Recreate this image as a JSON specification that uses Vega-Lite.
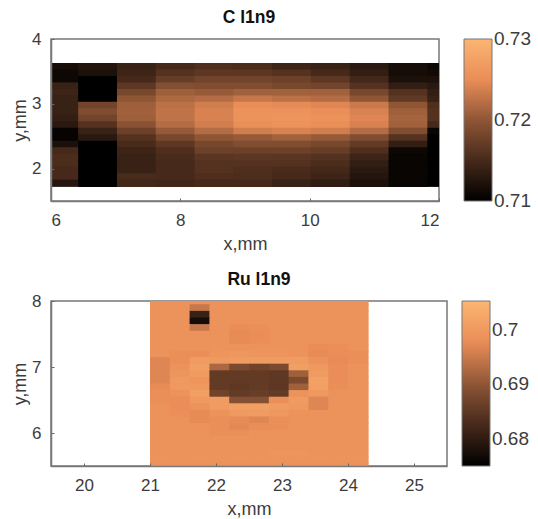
{
"$schema":"https://vega.github.io/schema/vega-lite/v6.json",
"padding":{"left":10,"top":7,"right":0,"bottom":0},
"background":"white",
"spacing":14,
"config":{"view":{"stroke":"#777","strokeWidth":1.5},"font":"Liberation Sans",
"axis":{"grid":false,"domain":true,"domainColor":"#777","domainWidth":1.5,"tickColor":"#666","tickSize":-3,"labelFontSize":17,"labelColor":"#3c3c3c","titleFontSize":18,"titleColor":"#3c3c3c","titleFontWeight":"normal"},
"axisX":{"labelPadding":14.5,"titlePadding":7},
"axisY":{"labelPadding":13,"titlePadding":2},
"title":{"fontSize":17.5,"fontWeight":"bold","color":"#111","offset":4},
"legend":{"gradientThickness":28,"labelFontSize":19,"labelColor":"#3c3c3c","gradientStrokeColor":"#777","gradientStrokeWidth":1,"labelOffset":11}},
"resolve":{"scale":{"color":"independent"}},
"vconcat":[
{"title":{"text":"C l1n9","dx":4},"width":388,"height":162,
"data":{"values":[
{"x":6,"x2":6.42,"y":3.63,"y2":3.53,"v":0.7116},{"x":6,"x2":6.42,"y":3.53,"y2":3.43,"v":0.711},{"x":6,"x2":6.42,"y":3.43,"y2":3.33,"v":0.711},{"x":6,"x2":6.42,"y":3.33,"y2":3.23,"v":0.714},{"x":6,"x2":6.42,"y":3.23,"y2":3.13,"v":0.7144},{"x":6,"x2":6.42,"y":3.13,"y2":3.03,"v":0.714},{"x":6,"x2":6.42,"y":3.03,"y2":2.93,"v":0.714},{"x":6,"x2":6.42,"y":2.93,"y2":2.83,"v":0.714},{"x":6,"x2":6.42,"y":2.83,"y2":2.73,"v":0.7136},{"x":6,"x2":6.42,"y":2.73,"y2":2.63,"v":0.713},{"x":6,"x2":6.42,"y":2.63,"y2":2.53,"v":0.7104},{"x":6,"x2":6.42,"y":2.53,"y2":2.43,"v":0.7104},{"x":6,"x2":6.42,"y":2.43,"y2":2.33,"v":0.712},{"x":6,"x2":6.42,"y":2.33,"y2":2.23,"v":0.715},{"x":6,"x2":6.42,"y":2.23,"y2":2.13,"v":0.7154},{"x":6,"x2":6.42,"y":2.13,"y2":2.03,"v":0.7154},{"x":6,"x2":6.42,"y":2.03,"y2":1.93,"v":0.715},{"x":6,"x2":6.42,"y":1.93,"y2":1.83,"v":0.715},{"x":6,"x2":6.42,"y":1.83,"y2":1.73,"v":0.7126},
{"x":6.42,"x2":7.02,"y":3.63,"y2":3.53,"v":0.7124},{"x":6.42,"x2":7.02,"y":3.53,"y2":3.43,"v":0.712},{"x":6.42,"x2":7.02,"y":3.43,"y2":3.33,"v":0.71},{"x":6.42,"x2":7.02,"y":3.33,"y2":3.23,"v":0.71},{"x":6.42,"x2":7.02,"y":3.23,"y2":3.13,"v":0.71},{"x":6.42,"x2":7.02,"y":3.13,"y2":3.03,"v":0.71},{"x":6.42,"x2":7.02,"y":3.03,"y2":2.93,"v":0.718},{"x":6.42,"x2":7.02,"y":2.93,"y2":2.83,"v":0.719},{"x":6.42,"x2":7.02,"y":2.83,"y2":2.73,"v":0.718},{"x":6.42,"x2":7.02,"y":2.73,"y2":2.63,"v":0.716},{"x":6.42,"x2":7.02,"y":2.63,"y2":2.53,"v":0.714},{"x":6.42,"x2":7.02,"y":2.53,"y2":2.43,"v":0.713},{"x":6.42,"x2":7.02,"y":2.43,"y2":2.33,"v":0.71},{"x":6.42,"x2":7.02,"y":2.33,"y2":2.23,"v":0.71},{"x":6.42,"x2":7.02,"y":2.23,"y2":2.13,"v":0.71},{"x":6.42,"x2":7.02,"y":2.13,"y2":2.03,"v":0.71},{"x":6.42,"x2":7.02,"y":2.03,"y2":1.93,"v":0.71},{"x":6.42,"x2":7.02,"y":1.93,"y2":1.83,"v":0.71},{"x":6.42,"x2":7.02,"y":1.83,"y2":1.73,"v":0.71},
{"x":7.02,"x2":7.62,"y":3.63,"y2":3.53,"v":0.714},{"x":7.02,"x2":7.62,"y":3.53,"y2":3.43,"v":0.7144},{"x":7.02,"x2":7.62,"y":3.43,"y2":3.33,"v":0.715},{"x":7.02,"x2":7.62,"y":3.33,"y2":3.23,"v":0.7166},{"x":7.02,"x2":7.62,"y":3.23,"y2":3.13,"v":0.7184},{"x":7.02,"x2":7.62,"y":3.13,"y2":3.03,"v":0.72},{"x":7.02,"x2":7.62,"y":3.03,"y2":2.93,"v":0.7208},{"x":7.02,"x2":7.62,"y":2.93,"y2":2.83,"v":0.721},{"x":7.02,"x2":7.62,"y":2.83,"y2":2.73,"v":0.7208},{"x":7.02,"x2":7.62,"y":2.73,"y2":2.63,"v":0.7196},{"x":7.02,"x2":7.62,"y":2.63,"y2":2.53,"v":0.7176},{"x":7.02,"x2":7.62,"y":2.53,"y2":2.43,"v":0.716},{"x":7.02,"x2":7.62,"y":2.43,"y2":2.33,"v":0.7152},{"x":7.02,"x2":7.62,"y":2.33,"y2":2.23,"v":0.7144},{"x":7.02,"x2":7.62,"y":2.23,"y2":2.13,"v":0.714},{"x":7.02,"x2":7.62,"y":2.13,"y2":2.03,"v":0.714},{"x":7.02,"x2":7.62,"y":2.03,"y2":1.93,"v":0.714},{"x":7.02,"x2":7.62,"y":1.93,"y2":1.83,"v":0.7152},{"x":7.02,"x2":7.62,"y":1.83,"y2":1.73,"v":0.7148},
{"x":7.62,"x2":8.22,"y":3.63,"y2":3.53,"v":0.715},{"x":7.62,"x2":8.22,"y":3.53,"y2":3.43,"v":0.716},{"x":7.62,"x2":8.22,"y":3.43,"y2":3.33,"v":0.7172},{"x":7.62,"x2":8.22,"y":3.33,"y2":3.23,"v":0.7192},{"x":7.62,"x2":8.22,"y":3.23,"y2":3.13,"v":0.7208},{"x":7.62,"x2":8.22,"y":3.13,"y2":3.03,"v":0.7216},{"x":7.62,"x2":8.22,"y":3.03,"y2":2.93,"v":0.7224},{"x":7.62,"x2":8.22,"y":2.93,"y2":2.83,"v":0.7226},{"x":7.62,"x2":8.22,"y":2.83,"y2":2.73,"v":0.7226},{"x":7.62,"x2":8.22,"y":2.73,"y2":2.63,"v":0.722},{"x":7.62,"x2":8.22,"y":2.63,"y2":2.53,"v":0.7204},{"x":7.62,"x2":8.22,"y":2.53,"y2":2.43,"v":0.7184},{"x":7.62,"x2":8.22,"y":2.43,"y2":2.33,"v":0.7166},{"x":7.62,"x2":8.22,"y":2.33,"y2":2.23,"v":0.7156},{"x":7.62,"x2":8.22,"y":2.23,"y2":2.13,"v":0.7152},{"x":7.62,"x2":8.22,"y":2.13,"y2":2.03,"v":0.715},{"x":7.62,"x2":8.22,"y":2.03,"y2":1.93,"v":0.715},{"x":7.62,"x2":8.22,"y":1.93,"y2":1.83,"v":0.715},{"x":7.62,"x2":8.22,"y":1.83,"y2":1.73,"v":0.7146},
{"x":8.22,"x2":8.82,"y":3.63,"y2":3.53,"v":0.7156},{"x":8.22,"x2":8.82,"y":3.53,"y2":3.43,"v":0.7166},{"x":8.22,"x2":8.82,"y":3.43,"y2":3.33,"v":0.718},{"x":8.22,"x2":8.82,"y":3.33,"y2":3.23,"v":0.719},{"x":8.22,"x2":8.82,"y":3.23,"y2":3.13,"v":0.7204},{"x":8.22,"x2":8.82,"y":3.13,"y2":3.03,"v":0.722},{"x":8.22,"x2":8.82,"y":3.03,"y2":2.93,"v":0.7236},{"x":8.22,"x2":8.82,"y":2.93,"y2":2.83,"v":0.724},{"x":8.22,"x2":8.82,"y":2.83,"y2":2.73,"v":0.724},{"x":8.22,"x2":8.82,"y":2.73,"y2":2.63,"v":0.7236},{"x":8.22,"x2":8.82,"y":2.63,"y2":2.53,"v":0.722},{"x":8.22,"x2":8.82,"y":2.53,"y2":2.43,"v":0.72},{"x":8.22,"x2":8.82,"y":2.43,"y2":2.33,"v":0.7184},{"x":8.22,"x2":8.82,"y":2.33,"y2":2.23,"v":0.7176},{"x":8.22,"x2":8.82,"y":2.23,"y2":2.13,"v":0.7164},{"x":8.22,"x2":8.82,"y":2.13,"y2":2.03,"v":0.716},{"x":8.22,"x2":8.82,"y":2.03,"y2":1.93,"v":0.716},{"x":8.22,"x2":8.82,"y":1.93,"y2":1.83,"v":0.7156},{"x":8.22,"x2":8.82,"y":1.83,"y2":1.73,"v":0.715},
{"x":8.82,"x2":9.42,"y":3.63,"y2":3.53,"v":0.7154},{"x":8.82,"x2":9.42,"y":3.53,"y2":3.43,"v":0.7166},{"x":8.82,"x2":9.42,"y":3.43,"y2":3.33,"v":0.718},{"x":8.82,"x2":9.42,"y":3.33,"y2":3.23,"v":0.719},{"x":8.82,"x2":9.42,"y":3.23,"y2":3.13,"v":0.721},{"x":8.82,"x2":9.42,"y":3.13,"y2":3.03,"v":0.723},{"x":8.82,"x2":9.42,"y":3.03,"y2":2.93,"v":0.725},{"x":8.82,"x2":9.42,"y":2.93,"y2":2.83,"v":0.7256},{"x":8.82,"x2":9.42,"y":2.83,"y2":2.73,"v":0.7256},{"x":8.82,"x2":9.42,"y":2.73,"y2":2.63,"v":0.7252},{"x":8.82,"x2":9.42,"y":2.63,"y2":2.53,"v":0.7236},{"x":8.82,"x2":9.42,"y":2.53,"y2":2.43,"v":0.7204},{"x":8.82,"x2":9.42,"y":2.43,"y2":2.33,"v":0.719},{"x":8.82,"x2":9.42,"y":2.33,"y2":2.23,"v":0.7176},{"x":8.82,"x2":9.42,"y":2.23,"y2":2.13,"v":0.7166},{"x":8.82,"x2":9.42,"y":2.13,"y2":2.03,"v":0.716},{"x":8.82,"x2":9.42,"y":2.03,"y2":1.93,"v":0.7156},{"x":8.82,"x2":9.42,"y":1.93,"y2":1.83,"v":0.7154},{"x":8.82,"x2":9.42,"y":1.83,"y2":1.73,"v":0.715},
{"x":9.42,"x2":10.02,"y":3.63,"y2":3.53,"v":0.7144},{"x":9.42,"x2":10.02,"y":3.53,"y2":3.43,"v":0.716},{"x":9.42,"x2":10.02,"y":3.43,"y2":3.33,"v":0.7176},{"x":9.42,"x2":10.02,"y":3.33,"y2":3.23,"v":0.7184},{"x":9.42,"x2":10.02,"y":3.23,"y2":3.13,"v":0.721},{"x":9.42,"x2":10.02,"y":3.13,"y2":3.03,"v":0.7224},{"x":9.42,"x2":10.02,"y":3.03,"y2":2.93,"v":0.7248},{"x":9.42,"x2":10.02,"y":2.93,"y2":2.83,"v":0.7256},{"x":9.42,"x2":10.02,"y":2.83,"y2":2.73,"v":0.726},{"x":9.42,"x2":10.02,"y":2.73,"y2":2.63,"v":0.7256},{"x":9.42,"x2":10.02,"y":2.63,"y2":2.53,"v":0.724},{"x":9.42,"x2":10.02,"y":2.53,"y2":2.43,"v":0.721},{"x":9.42,"x2":10.02,"y":2.43,"y2":2.33,"v":0.719},{"x":9.42,"x2":10.02,"y":2.33,"y2":2.23,"v":0.7176},{"x":9.42,"x2":10.02,"y":2.23,"y2":2.13,"v":0.7164},{"x":9.42,"x2":10.02,"y":2.13,"y2":2.03,"v":0.716},{"x":9.42,"x2":10.02,"y":2.03,"y2":1.93,"v":0.7152},{"x":9.42,"x2":10.02,"y":1.93,"y2":1.83,"v":0.715},{"x":9.42,"x2":10.02,"y":1.83,"y2":1.73,"v":0.714},
{"x":10.02,"x2":10.62,"y":3.63,"y2":3.53,"v":0.714},{"x":10.02,"x2":10.62,"y":3.53,"y2":3.43,"v":0.715},{"x":10.02,"x2":10.62,"y":3.43,"y2":3.33,"v":0.7166},{"x":10.02,"x2":10.62,"y":3.33,"y2":3.23,"v":0.718},{"x":10.02,"x2":10.62,"y":3.23,"y2":3.13,"v":0.721},{"x":10.02,"x2":10.62,"y":3.13,"y2":3.03,"v":0.722},{"x":10.02,"x2":10.62,"y":3.03,"y2":2.93,"v":0.7244},{"x":10.02,"x2":10.62,"y":2.93,"y2":2.83,"v":0.7252},{"x":10.02,"x2":10.62,"y":2.83,"y2":2.73,"v":0.7256},{"x":10.02,"x2":10.62,"y":2.73,"y2":2.63,"v":0.7252},{"x":10.02,"x2":10.62,"y":2.63,"y2":2.53,"v":0.7236},{"x":10.02,"x2":10.62,"y":2.53,"y2":2.43,"v":0.7204},{"x":10.02,"x2":10.62,"y":2.43,"y2":2.33,"v":0.7184},{"x":10.02,"x2":10.62,"y":2.33,"y2":2.23,"v":0.7172},{"x":10.02,"x2":10.62,"y":2.23,"y2":2.13,"v":0.716},{"x":10.02,"x2":10.62,"y":2.13,"y2":2.03,"v":0.7154},{"x":10.02,"x2":10.62,"y":2.03,"y2":1.93,"v":0.7148},{"x":10.02,"x2":10.62,"y":1.93,"y2":1.83,"v":0.7144},{"x":10.02,"x2":10.62,"y":1.83,"y2":1.73,"v":0.7134},
{"x":10.62,"x2":11.22,"y":3.63,"y2":3.53,"v":0.713},{"x":10.62,"x2":11.22,"y":3.53,"y2":3.43,"v":0.7136},{"x":10.62,"x2":11.22,"y":3.43,"y2":3.33,"v":0.7148},{"x":10.62,"x2":11.22,"y":3.33,"y2":3.23,"v":0.716},{"x":10.62,"x2":11.22,"y":3.23,"y2":3.13,"v":0.7184},{"x":10.62,"x2":11.22,"y":3.13,"y2":3.03,"v":0.72},{"x":10.62,"x2":11.22,"y":3.03,"y2":2.93,"v":0.7232},{"x":10.62,"x2":11.22,"y":2.93,"y2":2.83,"v":0.724},{"x":10.62,"x2":11.22,"y":2.83,"y2":2.73,"v":0.7244},{"x":10.62,"x2":11.22,"y":2.73,"y2":2.63,"v":0.724},{"x":10.62,"x2":11.22,"y":2.63,"y2":2.53,"v":0.722},{"x":10.62,"x2":11.22,"y":2.53,"y2":2.43,"v":0.719},{"x":10.62,"x2":11.22,"y":2.43,"y2":2.33,"v":0.717},{"x":10.62,"x2":11.22,"y":2.33,"y2":2.23,"v":0.7156},{"x":10.62,"x2":11.22,"y":2.23,"y2":2.13,"v":0.7144},{"x":10.62,"x2":11.22,"y":2.13,"y2":2.03,"v":0.7136},{"x":10.62,"x2":11.22,"y":2.03,"y2":1.93,"v":0.713},{"x":10.62,"x2":11.22,"y":1.93,"y2":1.83,"v":0.7126},{"x":10.62,"x2":11.22,"y":1.83,"y2":1.73,"v":0.712},
{"x":11.22,"x2":11.82,"y":3.63,"y2":3.53,"v":0.7116},{"x":11.22,"x2":11.82,"y":3.53,"y2":3.43,"v":0.7116},{"x":11.22,"x2":11.82,"y":3.43,"y2":3.33,"v":0.712},{"x":11.22,"x2":11.82,"y":3.33,"y2":3.23,"v":0.7136},{"x":11.22,"x2":11.82,"y":3.23,"y2":3.13,"v":0.716},{"x":11.22,"x2":11.82,"y":3.13,"y2":3.03,"v":0.7168},{"x":11.22,"x2":11.82,"y":3.03,"y2":2.93,"v":0.72},{"x":11.22,"x2":11.82,"y":2.93,"y2":2.83,"v":0.7208},{"x":11.22,"x2":11.82,"y":2.83,"y2":2.73,"v":0.7212},{"x":11.22,"x2":11.82,"y":2.73,"y2":2.63,"v":0.721},{"x":11.22,"x2":11.82,"y":2.63,"y2":2.53,"v":0.719},{"x":11.22,"x2":11.82,"y":2.53,"y2":2.43,"v":0.716},{"x":11.22,"x2":11.82,"y":2.43,"y2":2.33,"v":0.7136},{"x":11.22,"x2":11.82,"y":2.33,"y2":2.23,"v":0.711},{"x":11.22,"x2":11.82,"y":2.23,"y2":2.13,"v":0.7106},{"x":11.22,"x2":11.82,"y":2.13,"y2":2.03,"v":0.7106},{"x":11.22,"x2":11.82,"y":2.03,"y2":1.93,"v":0.7106},{"x":11.22,"x2":11.82,"y":1.93,"y2":1.83,"v":0.7106},{"x":11.22,"x2":11.82,"y":1.83,"y2":1.73,"v":0.7106},
{"x":11.82,"x2":12,"y":3.63,"y2":3.53,"v":0.7108},{"x":11.82,"x2":12,"y":3.53,"y2":3.43,"v":0.7112},{"x":11.82,"x2":12,"y":3.43,"y2":3.33,"v":0.712},{"x":11.82,"x2":12,"y":3.33,"y2":3.23,"v":0.713},{"x":11.82,"x2":12,"y":3.23,"y2":3.13,"v":0.7136},{"x":11.82,"x2":12,"y":3.13,"y2":3.03,"v":0.714},{"x":11.82,"x2":12,"y":3.03,"y2":2.93,"v":0.7156},{"x":11.82,"x2":12,"y":2.93,"y2":2.83,"v":0.716},{"x":11.82,"x2":12,"y":2.83,"y2":2.73,"v":0.716},{"x":11.82,"x2":12,"y":2.73,"y2":2.63,"v":0.715},{"x":11.82,"x2":12,"y":2.63,"y2":2.53,"v":0.7106},{"x":11.82,"x2":12,"y":2.53,"y2":2.43,"v":0.71},{"x":11.82,"x2":12,"y":2.43,"y2":2.33,"v":0.71},{"x":11.82,"x2":12,"y":2.33,"y2":2.23,"v":0.71},{"x":11.82,"x2":12,"y":2.23,"y2":2.13,"v":0.71},{"x":11.82,"x2":12,"y":2.13,"y2":2.03,"v":0.71},{"x":11.82,"x2":12,"y":2.03,"y2":1.93,"v":0.71},{"x":11.82,"x2":12,"y":1.93,"y2":1.83,"v":0.71},{"x":11.82,"x2":12,"y":1.83,"y2":1.73,"v":0.71}
]},
"mark":{"type":"rect","clip":true,"x2Offset":0.8,"y2Offset":0.8},
"encoding":{
"x":{"field":"x","type":"quantitative","scale":{"domain":[6,12],"nice":false,"zero":false},"axis":{"values":[6,8,10,12],"title":"x,mm","zindex":1}},
"x2":{"field":"x2"},
"y":{"field":"y","type":"quantitative","scale":{"domain":[1.5,4],"nice":false,"zero":false},"axis":{"values":[2,3,4],"title":"y,mm","format":"d","zindex":1}},
"y2":{"field":"y2"},
"color":{"field":"v","type":"quantitative","scale":{"domain":[0.70999,0.73001],"clamp":true,"interpolate":"rgb","range":["#000000","#46291a","#8f5636","#ea8d58","#fbb572"]},"legend":{"title":null,"values":[0.71,0.72,0.73],"gradientLength":162,"orient":"right","offset":25,"format":".2f"}}
}},
{"title":{"text":"Ru l1n9","dx":10},"width":396,"height":165,
"data":{"values":[
{"x":21,"x2":21.3,"y":8,"y2":7.95,"v":0.6986},{"x":21.3,"x2":21.6,"y":8,"y2":7.95,"v":0.6986},{"x":21.6,"x2":21.9,"y":8,"y2":7.95,"v":0.6986},{"x":21.9,"x2":22.2,"y":8,"y2":7.95,"v":0.6986},{"x":22.2,"x2":22.5,"y":8,"y2":7.95,"v":0.6986},{"x":22.5,"x2":22.8,"y":8,"y2":7.95,"v":0.6986},{"x":22.8,"x2":23.1,"y":8,"y2":7.95,"v":0.6986},{"x":23.1,"x2":23.4,"y":8,"y2":7.95,"v":0.6986},{"x":23.4,"x2":23.7,"y":8,"y2":7.95,"v":0.6986},{"x":23.7,"x2":24,"y":8,"y2":7.95,"v":0.6986},{"x":24,"x2":24.3,"y":8,"y2":7.95,"v":0.6986},
{"x":21,"x2":21.3,"y":7.95,"y2":7.85,"v":0.6986},{"x":21.3,"x2":21.6,"y":7.95,"y2":7.85,"v":0.6986},{"x":21.6,"x2":21.9,"y":7.95,"y2":7.85,"v":0.6947},{"x":21.9,"x2":22.2,"y":7.95,"y2":7.85,"v":0.6986},{"x":22.2,"x2":22.5,"y":7.95,"y2":7.85,"v":0.6986},{"x":22.5,"x2":22.8,"y":7.95,"y2":7.85,"v":0.6986},{"x":22.8,"x2":23.1,"y":7.95,"y2":7.85,"v":0.6986},{"x":23.1,"x2":23.4,"y":7.95,"y2":7.85,"v":0.6986},{"x":23.4,"x2":23.7,"y":7.95,"y2":7.85,"v":0.6986},{"x":23.7,"x2":24,"y":7.95,"y2":7.85,"v":0.6986},{"x":24,"x2":24.3,"y":7.95,"y2":7.85,"v":0.6986},
{"x":21,"x2":21.3,"y":7.85,"y2":7.75,"v":0.6986},{"x":21.3,"x2":21.6,"y":7.85,"y2":7.75,"v":0.6986},{"x":21.6,"x2":21.9,"y":7.85,"y2":7.75,"v":0.6811},{"x":21.9,"x2":22.2,"y":7.85,"y2":7.75,"v":0.6986},{"x":22.2,"x2":22.5,"y":7.85,"y2":7.75,"v":0.6986},{"x":22.5,"x2":22.8,"y":7.85,"y2":7.75,"v":0.6986},{"x":22.8,"x2":23.1,"y":7.85,"y2":7.75,"v":0.6986},{"x":23.1,"x2":23.4,"y":7.85,"y2":7.75,"v":0.6986},{"x":23.4,"x2":23.7,"y":7.85,"y2":7.75,"v":0.6986},{"x":23.7,"x2":24,"y":7.85,"y2":7.75,"v":0.6986},{"x":24,"x2":24.3,"y":7.85,"y2":7.75,"v":0.6986},
{"x":21,"x2":21.3,"y":7.75,"y2":7.65,"v":0.6986},{"x":21.3,"x2":21.6,"y":7.75,"y2":7.65,"v":0.6986},{"x":21.6,"x2":21.9,"y":7.75,"y2":7.65,"v":0.6775},{"x":21.9,"x2":22.2,"y":7.75,"y2":7.65,"v":0.6986},{"x":22.2,"x2":22.5,"y":7.75,"y2":7.65,"v":0.6986},{"x":22.5,"x2":22.8,"y":7.75,"y2":7.65,"v":0.6986},{"x":22.8,"x2":23.1,"y":7.75,"y2":7.65,"v":0.6986},{"x":23.1,"x2":23.4,"y":7.75,"y2":7.65,"v":0.6986},{"x":23.4,"x2":23.7,"y":7.75,"y2":7.65,"v":0.6986},{"x":23.7,"x2":24,"y":7.75,"y2":7.65,"v":0.6986},{"x":24,"x2":24.3,"y":7.75,"y2":7.65,"v":0.6986},
{"x":21,"x2":21.3,"y":7.65,"y2":7.55,"v":0.6986},{"x":21.3,"x2":21.6,"y":7.65,"y2":7.55,"v":0.6986},{"x":21.6,"x2":21.9,"y":7.65,"y2":7.55,"v":0.6947},{"x":21.9,"x2":22.2,"y":7.65,"y2":7.55,"v":0.6986},{"x":22.2,"x2":22.5,"y":7.65,"y2":7.55,"v":0.6977},{"x":22.5,"x2":22.8,"y":7.65,"y2":7.55,"v":0.698},{"x":22.8,"x2":23.1,"y":7.65,"y2":7.55,"v":0.6986},{"x":23.1,"x2":23.4,"y":7.65,"y2":7.55,"v":0.6986},{"x":23.4,"x2":23.7,"y":7.65,"y2":7.55,"v":0.6986},{"x":23.7,"x2":24,"y":7.65,"y2":7.55,"v":0.6986},{"x":24,"x2":24.3,"y":7.65,"y2":7.55,"v":0.6986},
{"x":21,"x2":21.3,"y":7.55,"y2":7.45,"v":0.6986},{"x":21.3,"x2":21.6,"y":7.55,"y2":7.45,"v":0.6986},{"x":21.6,"x2":21.9,"y":7.55,"y2":7.45,"v":0.6986},{"x":21.9,"x2":22.2,"y":7.55,"y2":7.45,"v":0.6986},{"x":22.2,"x2":22.5,"y":7.55,"y2":7.45,"v":0.6974},{"x":22.5,"x2":22.8,"y":7.55,"y2":7.45,"v":0.6977},{"x":22.8,"x2":23.1,"y":7.55,"y2":7.45,"v":0.6986},{"x":23.1,"x2":23.4,"y":7.55,"y2":7.45,"v":0.6986},{"x":23.4,"x2":23.7,"y":7.55,"y2":7.45,"v":0.6986},{"x":23.7,"x2":24,"y":7.55,"y2":7.45,"v":0.6986},{"x":24,"x2":24.3,"y":7.55,"y2":7.45,"v":0.6986},
{"x":21,"x2":21.3,"y":7.45,"y2":7.35,"v":0.6986},{"x":21.3,"x2":21.6,"y":7.45,"y2":7.35,"v":0.6986},{"x":21.6,"x2":21.9,"y":7.45,"y2":7.35,"v":0.6986},{"x":21.9,"x2":22.2,"y":7.45,"y2":7.35,"v":0.6986},{"x":22.2,"x2":22.5,"y":7.45,"y2":7.35,"v":0.6974},{"x":22.5,"x2":22.8,"y":7.45,"y2":7.35,"v":0.698},{"x":22.8,"x2":23.1,"y":7.45,"y2":7.35,"v":0.6986},{"x":23.1,"x2":23.4,"y":7.45,"y2":7.35,"v":0.6986},{"x":23.4,"x2":23.7,"y":7.45,"y2":7.35,"v":0.6986},{"x":23.7,"x2":24,"y":7.45,"y2":7.35,"v":0.6986},{"x":24,"x2":24.3,"y":7.45,"y2":7.35,"v":0.6986},
{"x":21,"x2":21.3,"y":7.35,"y2":7.25,"v":0.6986},{"x":21.3,"x2":21.6,"y":7.35,"y2":7.25,"v":0.6986},{"x":21.6,"x2":21.9,"y":7.35,"y2":7.25,"v":0.6986},{"x":21.9,"x2":22.2,"y":7.35,"y2":7.25,"v":0.6986},{"x":22.2,"x2":22.5,"y":7.35,"y2":7.25,"v":0.6986},{"x":22.5,"x2":22.8,"y":7.35,"y2":7.25,"v":0.6986},{"x":22.8,"x2":23.1,"y":7.35,"y2":7.25,"v":0.6986},{"x":23.1,"x2":23.4,"y":7.35,"y2":7.25,"v":0.6986},{"x":23.4,"x2":23.7,"y":7.35,"y2":7.25,"v":0.6977},{"x":23.7,"x2":24,"y":7.35,"y2":7.25,"v":0.698},{"x":24,"x2":24.3,"y":7.35,"y2":7.25,"v":0.6986},
{"x":21,"x2":21.3,"y":7.25,"y2":7.15,"v":0.6986},{"x":21.3,"x2":21.6,"y":7.25,"y2":7.15,"v":0.698},{"x":21.6,"x2":21.9,"y":7.25,"y2":7.15,"v":0.698},{"x":21.9,"x2":22.2,"y":7.25,"y2":7.15,"v":0.6992},{"x":22.2,"x2":22.5,"y":7.25,"y2":7.15,"v":0.6995},{"x":22.5,"x2":22.8,"y":7.25,"y2":7.15,"v":0.6992},{"x":22.8,"x2":23.1,"y":7.25,"y2":7.15,"v":0.6992},{"x":23.1,"x2":23.4,"y":7.25,"y2":7.15,"v":0.6986},{"x":23.4,"x2":23.7,"y":7.25,"y2":7.15,"v":0.6974},{"x":23.7,"x2":24,"y":7.25,"y2":7.15,"v":0.6977},{"x":24,"x2":24.3,"y":7.25,"y2":7.15,"v":0.698},
{"x":21,"x2":21.3,"y":7.15,"y2":7.05,"v":0.6968},{"x":21.3,"x2":21.6,"y":7.15,"y2":7.05,"v":0.698},{"x":21.6,"x2":21.9,"y":7.15,"y2":7.05,"v":0.7004},{"x":21.9,"x2":22.2,"y":7.15,"y2":7.05,"v":0.6998},{"x":22.2,"x2":22.5,"y":7.15,"y2":7.05,"v":0.7004},{"x":22.5,"x2":22.8,"y":7.15,"y2":7.05,"v":0.7004},{"x":22.8,"x2":23.1,"y":7.15,"y2":7.05,"v":0.7004},{"x":23.1,"x2":23.4,"y":7.15,"y2":7.05,"v":0.7004},{"x":23.4,"x2":23.7,"y":7.15,"y2":7.05,"v":0.6986},{"x":23.7,"x2":24,"y":7.15,"y2":7.05,"v":0.6974},{"x":24,"x2":24.3,"y":7.15,"y2":7.05,"v":0.698},
{"x":21,"x2":21.3,"y":7.05,"y2":6.95,"v":0.6968},{"x":21.3,"x2":21.6,"y":7.05,"y2":6.95,"v":0.6986},{"x":21.6,"x2":21.9,"y":7.05,"y2":6.95,"v":0.701},{"x":21.9,"x2":22.2,"y":7.05,"y2":6.95,"v":0.6925},{"x":22.2,"x2":22.5,"y":7.05,"y2":6.95,"v":0.688},{"x":22.5,"x2":22.8,"y":7.05,"y2":6.95,"v":0.687},{"x":22.8,"x2":23.1,"y":7.05,"y2":6.95,"v":0.688},{"x":23.1,"x2":23.4,"y":7.05,"y2":6.95,"v":0.701},{"x":23.4,"x2":23.7,"y":7.05,"y2":6.95,"v":0.6998},{"x":23.7,"x2":24,"y":7.05,"y2":6.95,"v":0.6977},{"x":24,"x2":24.3,"y":7.05,"y2":6.95,"v":0.6986},
{"x":21,"x2":21.3,"y":6.95,"y2":6.85,"v":0.6968},{"x":21.3,"x2":21.6,"y":6.95,"y2":6.85,"v":0.6992},{"x":21.6,"x2":21.9,"y":6.95,"y2":6.85,"v":0.7004},{"x":21.9,"x2":22.2,"y":6.95,"y2":6.85,"v":0.6856},{"x":22.2,"x2":22.5,"y":6.95,"y2":6.85,"v":0.6856},{"x":22.5,"x2":22.8,"y":6.95,"y2":6.85,"v":0.6856},{"x":22.8,"x2":23.1,"y":6.95,"y2":6.85,"v":0.6852},{"x":23.1,"x2":23.4,"y":6.95,"y2":6.85,"v":0.6915},{"x":23.4,"x2":23.7,"y":6.95,"y2":6.85,"v":0.7004},{"x":23.7,"x2":24,"y":6.95,"y2":6.85,"v":0.6977},{"x":24,"x2":24.3,"y":6.95,"y2":6.85,"v":0.6986},
{"x":21,"x2":21.3,"y":6.85,"y2":6.75,"v":0.6968},{"x":21.3,"x2":21.6,"y":6.85,"y2":6.75,"v":0.6998},{"x":21.6,"x2":21.9,"y":6.85,"y2":6.75,"v":0.6992},{"x":21.9,"x2":22.2,"y":6.85,"y2":6.75,"v":0.6856},{"x":22.2,"x2":22.5,"y":6.85,"y2":6.75,"v":0.6856},{"x":22.5,"x2":22.8,"y":6.85,"y2":6.75,"v":0.6856},{"x":22.8,"x2":23.1,"y":6.85,"y2":6.75,"v":0.6852},{"x":23.1,"x2":23.4,"y":6.85,"y2":6.75,"v":0.688},{"x":23.4,"x2":23.7,"y":6.85,"y2":6.75,"v":0.7016},{"x":23.7,"x2":24,"y":6.85,"y2":6.75,"v":0.6977},{"x":24,"x2":24.3,"y":6.85,"y2":6.75,"v":0.6986},
{"x":21,"x2":21.3,"y":6.75,"y2":6.65,"v":0.6974},{"x":21.3,"x2":21.6,"y":6.75,"y2":6.65,"v":0.6998},{"x":21.6,"x2":21.9,"y":6.75,"y2":6.65,"v":0.6998},{"x":21.9,"x2":22.2,"y":6.75,"y2":6.65,"v":0.6856},{"x":22.2,"x2":22.5,"y":6.75,"y2":6.65,"v":0.6852},{"x":22.5,"x2":22.8,"y":6.75,"y2":6.65,"v":0.6856},{"x":22.8,"x2":23.1,"y":6.75,"y2":6.65,"v":0.685},{"x":23.1,"x2":23.4,"y":6.75,"y2":6.65,"v":0.6915},{"x":23.4,"x2":23.7,"y":6.75,"y2":6.65,"v":0.701},{"x":23.7,"x2":24,"y":6.75,"y2":6.65,"v":0.698},{"x":24,"x2":24.3,"y":6.75,"y2":6.65,"v":0.6986},
{"x":21,"x2":21.3,"y":6.65,"y2":6.55,"v":0.698},{"x":21.3,"x2":21.6,"y":6.65,"y2":6.55,"v":0.6986},{"x":21.6,"x2":21.9,"y":6.65,"y2":6.55,"v":0.701},{"x":21.9,"x2":22.2,"y":6.65,"y2":6.55,"v":0.687},{"x":22.2,"x2":22.5,"y":6.65,"y2":6.55,"v":0.6856},{"x":22.5,"x2":22.8,"y":6.65,"y2":6.55,"v":0.6862},{"x":22.8,"x2":23.1,"y":6.65,"y2":6.55,"v":0.6856},{"x":23.1,"x2":23.4,"y":6.65,"y2":6.55,"v":0.6986},{"x":23.4,"x2":23.7,"y":6.65,"y2":6.55,"v":0.6998},{"x":23.7,"x2":24,"y":6.65,"y2":6.55,"v":0.6986},{"x":24,"x2":24.3,"y":6.65,"y2":6.55,"v":0.6986},
{"x":21,"x2":21.3,"y":6.55,"y2":6.45,"v":0.698},{"x":21.3,"x2":21.6,"y":6.55,"y2":6.45,"v":0.6977},{"x":21.6,"x2":21.9,"y":6.55,"y2":6.45,"v":0.6998},{"x":21.9,"x2":22.2,"y":6.55,"y2":6.45,"v":0.7004},{"x":22.2,"x2":22.5,"y":6.55,"y2":6.45,"v":0.689},{"x":22.5,"x2":22.8,"y":6.55,"y2":6.45,"v":0.689},{"x":22.8,"x2":23.1,"y":6.55,"y2":6.45,"v":0.698},{"x":23.1,"x2":23.4,"y":6.55,"y2":6.45,"v":0.7004},{"x":23.4,"x2":23.7,"y":6.55,"y2":6.45,"v":0.6968},{"x":23.7,"x2":24,"y":6.55,"y2":6.45,"v":0.6986},{"x":24,"x2":24.3,"y":6.55,"y2":6.45,"v":0.6986},
{"x":21,"x2":21.3,"y":6.45,"y2":6.35,"v":0.6986},{"x":21.3,"x2":21.6,"y":6.45,"y2":6.35,"v":0.6977},{"x":21.6,"x2":21.9,"y":6.45,"y2":6.35,"v":0.6986},{"x":21.9,"x2":22.2,"y":6.45,"y2":6.35,"v":0.7004},{"x":22.2,"x2":22.5,"y":6.45,"y2":6.35,"v":0.701},{"x":22.5,"x2":22.8,"y":6.45,"y2":6.35,"v":0.701},{"x":22.8,"x2":23.1,"y":6.45,"y2":6.35,"v":0.7004},{"x":23.1,"x2":23.4,"y":6.45,"y2":6.35,"v":0.6998},{"x":23.4,"x2":23.7,"y":6.45,"y2":6.35,"v":0.6968},{"x":23.7,"x2":24,"y":6.45,"y2":6.35,"v":0.6986},{"x":24,"x2":24.3,"y":6.45,"y2":6.35,"v":0.6986},
{"x":21,"x2":21.3,"y":6.35,"y2":6.25,"v":0.6986},{"x":21.3,"x2":21.6,"y":6.35,"y2":6.25,"v":0.698},{"x":21.6,"x2":21.9,"y":6.35,"y2":6.25,"v":0.6974},{"x":21.9,"x2":22.2,"y":6.35,"y2":6.25,"v":0.6986},{"x":22.2,"x2":22.5,"y":6.35,"y2":6.25,"v":0.6998},{"x":22.5,"x2":22.8,"y":6.35,"y2":6.25,"v":0.7004},{"x":22.8,"x2":23.1,"y":6.35,"y2":6.25,"v":0.6995},{"x":23.1,"x2":23.4,"y":6.35,"y2":6.25,"v":0.6986},{"x":23.4,"x2":23.7,"y":6.35,"y2":6.25,"v":0.6986},{"x":23.7,"x2":24,"y":6.35,"y2":6.25,"v":0.6986},{"x":24,"x2":24.3,"y":6.35,"y2":6.25,"v":0.6986},
{"x":21,"x2":21.3,"y":6.25,"y2":6.15,"v":0.6986},{"x":21.3,"x2":21.6,"y":6.25,"y2":6.15,"v":0.6986},{"x":21.6,"x2":21.9,"y":6.25,"y2":6.15,"v":0.6974},{"x":21.9,"x2":22.2,"y":6.25,"y2":6.15,"v":0.698},{"x":22.2,"x2":22.5,"y":6.25,"y2":6.15,"v":0.6974},{"x":22.5,"x2":22.8,"y":6.25,"y2":6.15,"v":0.6968},{"x":22.8,"x2":23.1,"y":6.25,"y2":6.15,"v":0.698},{"x":23.1,"x2":23.4,"y":6.25,"y2":6.15,"v":0.6986},{"x":23.4,"x2":23.7,"y":6.25,"y2":6.15,"v":0.6986},{"x":23.7,"x2":24,"y":6.25,"y2":6.15,"v":0.6986},{"x":24,"x2":24.3,"y":6.25,"y2":6.15,"v":0.6986},
{"x":21,"x2":21.3,"y":6.15,"y2":6.05,"v":0.6986},{"x":21.3,"x2":21.6,"y":6.15,"y2":6.05,"v":0.6986},{"x":21.6,"x2":21.9,"y":6.15,"y2":6.05,"v":0.6986},{"x":21.9,"x2":22.2,"y":6.15,"y2":6.05,"v":0.698},{"x":22.2,"x2":22.5,"y":6.15,"y2":6.05,"v":0.6971},{"x":22.5,"x2":22.8,"y":6.15,"y2":6.05,"v":0.6977},{"x":22.8,"x2":23.1,"y":6.15,"y2":6.05,"v":0.698},{"x":23.1,"x2":23.4,"y":6.15,"y2":6.05,"v":0.6986},{"x":23.4,"x2":23.7,"y":6.15,"y2":6.05,"v":0.6986},{"x":23.7,"x2":24,"y":6.15,"y2":6.05,"v":0.6986},{"x":24,"x2":24.3,"y":6.15,"y2":6.05,"v":0.6986},
{"x":21,"x2":21.3,"y":6.05,"y2":5.95,"v":0.6986},{"x":21.3,"x2":21.6,"y":6.05,"y2":5.95,"v":0.6986},{"x":21.6,"x2":21.9,"y":6.05,"y2":5.95,"v":0.6986},{"x":21.9,"x2":22.2,"y":6.05,"y2":5.95,"v":0.698},{"x":22.2,"x2":22.5,"y":6.05,"y2":5.95,"v":0.698},{"x":22.5,"x2":22.8,"y":6.05,"y2":5.95,"v":0.6986},{"x":22.8,"x2":23.1,"y":6.05,"y2":5.95,"v":0.6986},{"x":23.1,"x2":23.4,"y":6.05,"y2":5.95,"v":0.6986},{"x":23.4,"x2":23.7,"y":6.05,"y2":5.95,"v":0.6986},{"x":23.7,"x2":24,"y":6.05,"y2":5.95,"v":0.6986},{"x":24,"x2":24.3,"y":6.05,"y2":5.95,"v":0.6986},
{"x":21,"x2":21.3,"y":5.95,"y2":5.85,"v":0.6986},{"x":21.3,"x2":21.6,"y":5.95,"y2":5.85,"v":0.6986},{"x":21.6,"x2":21.9,"y":5.95,"y2":5.85,"v":0.6986},{"x":21.9,"x2":22.2,"y":5.95,"y2":5.85,"v":0.6986},{"x":22.2,"x2":22.5,"y":5.95,"y2":5.85,"v":0.6986},{"x":22.5,"x2":22.8,"y":5.95,"y2":5.85,"v":0.6986},{"x":22.8,"x2":23.1,"y":5.95,"y2":5.85,"v":0.6986},{"x":23.1,"x2":23.4,"y":5.95,"y2":5.85,"v":0.6986},{"x":23.4,"x2":23.7,"y":5.95,"y2":5.85,"v":0.6986},{"x":23.7,"x2":24,"y":5.95,"y2":5.85,"v":0.6986},{"x":24,"x2":24.3,"y":5.95,"y2":5.85,"v":0.6986},
{"x":21,"x2":21.3,"y":5.85,"y2":5.75,"v":0.6986},{"x":21.3,"x2":21.6,"y":5.85,"y2":5.75,"v":0.6986},{"x":21.6,"x2":21.9,"y":5.85,"y2":5.75,"v":0.6986},{"x":21.9,"x2":22.2,"y":5.85,"y2":5.75,"v":0.6986},{"x":22.2,"x2":22.5,"y":5.85,"y2":5.75,"v":0.6986},{"x":22.5,"x2":22.8,"y":5.85,"y2":5.75,"v":0.6986},{"x":22.8,"x2":23.1,"y":5.85,"y2":5.75,"v":0.6986},{"x":23.1,"x2":23.4,"y":5.85,"y2":5.75,"v":0.6986},{"x":23.4,"x2":23.7,"y":5.85,"y2":5.75,"v":0.6986},{"x":23.7,"x2":24,"y":5.85,"y2":5.75,"v":0.6986},{"x":24,"x2":24.3,"y":5.85,"y2":5.75,"v":0.6986},
{"x":21,"x2":21.3,"y":5.75,"y2":5.65,"v":0.6986},{"x":21.3,"x2":21.6,"y":5.75,"y2":5.65,"v":0.6986},{"x":21.6,"x2":21.9,"y":5.75,"y2":5.65,"v":0.6986},{"x":21.9,"x2":22.2,"y":5.75,"y2":5.65,"v":0.6986},{"x":22.2,"x2":22.5,"y":5.75,"y2":5.65,"v":0.6986},{"x":22.5,"x2":22.8,"y":5.75,"y2":5.65,"v":0.6986},{"x":22.8,"x2":23.1,"y":5.75,"y2":5.65,"v":0.6992},{"x":23.1,"x2":23.4,"y":5.75,"y2":5.65,"v":0.6992},{"x":23.4,"x2":23.7,"y":5.75,"y2":5.65,"v":0.6986},{"x":23.7,"x2":24,"y":5.75,"y2":5.65,"v":0.6986},{"x":24,"x2":24.3,"y":5.75,"y2":5.65,"v":0.6986},
{"x":21,"x2":21.3,"y":5.65,"y2":5.55,"v":0.6986},{"x":21.3,"x2":21.6,"y":5.65,"y2":5.55,"v":0.6986},{"x":21.6,"x2":21.9,"y":5.65,"y2":5.55,"v":0.6986},{"x":21.9,"x2":22.2,"y":5.65,"y2":5.55,"v":0.6986},{"x":22.2,"x2":22.5,"y":5.65,"y2":5.55,"v":0.6986},{"x":22.5,"x2":22.8,"y":5.65,"y2":5.55,"v":0.6986},{"x":22.8,"x2":23.1,"y":5.65,"y2":5.55,"v":0.6986},{"x":23.1,"x2":23.4,"y":5.65,"y2":5.55,"v":0.6986},{"x":23.4,"x2":23.7,"y":5.65,"y2":5.55,"v":0.6986},{"x":23.7,"x2":24,"y":5.65,"y2":5.55,"v":0.6986},{"x":24,"x2":24.3,"y":5.65,"y2":5.55,"v":0.6986},
{"x":21,"x2":21.3,"y":5.55,"y2":5.5,"v":0.6986},{"x":21.3,"x2":21.6,"y":5.55,"y2":5.5,"v":0.6986},{"x":21.6,"x2":21.9,"y":5.55,"y2":5.5,"v":0.6986},{"x":21.9,"x2":22.2,"y":5.55,"y2":5.5,"v":0.6986},{"x":22.2,"x2":22.5,"y":5.55,"y2":5.5,"v":0.6986},{"x":22.5,"x2":22.8,"y":5.55,"y2":5.5,"v":0.6986},{"x":22.8,"x2":23.1,"y":5.55,"y2":5.5,"v":0.6986},{"x":23.1,"x2":23.4,"y":5.55,"y2":5.5,"v":0.6986},{"x":23.4,"x2":23.7,"y":5.55,"y2":5.5,"v":0.6986},{"x":23.7,"x2":24,"y":5.55,"y2":5.5,"v":0.6986},{"x":24,"x2":24.3,"y":5.55,"y2":5.5,"v":0.6986}
]},
"mark":{"type":"rect","clip":true,"x2Offset":0.8,"y2Offset":0.8},
"encoding":{
"x":{"field":"x","type":"quantitative","scale":{"domain":[19.5,25.5],"nice":false,"zero":false},"axis":{"values":[20,21,22,23,24,25],"title":"x,mm","zindex":1}},
"x2":{"field":"x2"},
"y":{"field":"y","type":"quantitative","scale":{"domain":[5.5,8],"nice":false,"zero":false},"axis":{"values":[6,7,8],"title":"y,mm","format":"d","zindex":1}},
"y2":{"field":"y2"},
"color":{"field":"v","type":"quantitative","scale":{"domain":[0.6751,0.7052],"clamp":true,"interpolate":"rgb","range":["#000000","#46291a","#8f5636","#ea8d58","#fbb572"]},"legend":{"title":null,"values":[0.68,0.69,0.7],"gradientLength":165,"orient":"right","offset":15,"format":"~r"}}
}}
]}
